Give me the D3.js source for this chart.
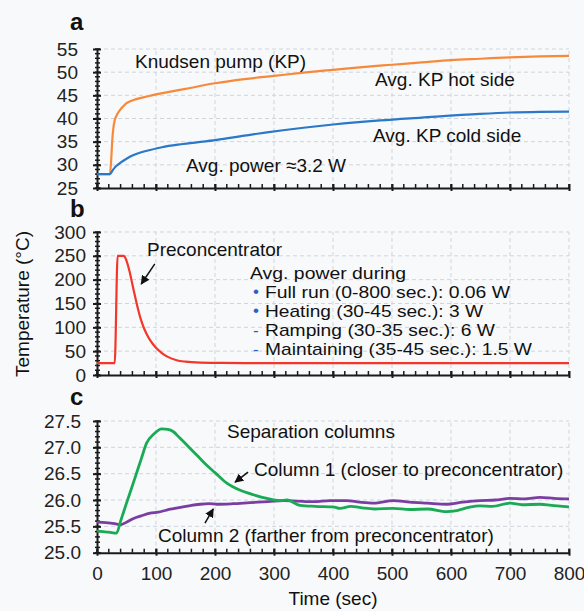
<!DOCTYPE html>
<html>
<head>
<meta charset="utf-8">
<script src="https://cdn.jsdelivr.net/npm/d3@7"></script>
<style>
  body { margin: 0; background: #f8f9fb; }
  svg { font-family: "Liberation Sans", Arial, sans-serif; }
  .grid line { stroke: #cfd5dd; stroke-width: 1; stroke-dasharray: 4,3; }
  .axis path, .axis line { stroke: #1a1a1a; stroke-width: 2; }
  .axis text { font-size: 19px; fill: #222; }
  .note { font-size: 19px; fill: #111; }
  .line { fill: none; stroke-linejoin: round; }
</style>
</head>
<body>
<svg width="584" height="611"></svg>
<script>
// ---- data ----
var hotTime = [0,22,24,26,28,30,33,36,40,45,50,56,62,70,80,100,120,150,200,250,300,350,400,450,500,550,600,650,700,750,800];
var hotSide = [28,28,31,35.5,38.2,39.6,40.6,41.3,42.0,42.7,43.3,43.7,44.0,44.3,44.6,45.2,45.7,46.4,47.6,48.5,49.2,49.9,50.5,51.1,51.6,52.1,52.6,52.9,53.2,53.4,53.5];

var coldTime = [0,22,26,30,35,40,50,62,75,90,110,146,203,250,288,350,400,480,550,649,700,750,800];
var coldSide = [28,28,28.7,29.4,30.0,30.5,31.3,32.1,32.7,33.2,33.8,34.5,35.4,36.3,37.0,38.0,38.7,39.6,40.2,41.0,41.3,41.45,41.5];

var preTime = [0,30,35,45,48,51,55,60,65,70,75,80,85,90,100,110,120,135,150,175,200,250,300,400,500,600,700,800];
var preTemp = [25,25,250,250,246,236,218,190,162,136,114,97,84,73,57,46,38,31,28,26,25.5,25,25,25,25,25,25,25];

var col1Time = [0,10,20,33,40,50,62,75,84,96,110,120,129,140,158,172,186,200,220,242,265,288,310,322,344,370,400,412,430,450,470,502,530,560,592,610,630,649,670,700,720,751,770,800];
var col1Temp = [25.41,25.40,25.39,25.37,25.60,25.94,26.34,26.78,27.08,27.25,27.35,27.34,27.30,27.18,26.98,26.82,26.66,26.52,26.32,26.19,26.10,26.03,25.99,26.00,25.90,25.88,25.87,25.84,25.88,25.85,25.83,25.84,25.82,25.83,25.78,25.80,25.86,25.89,25.88,25.94,25.91,25.92,25.90,25.87];

var col2Time = [0,15,30,40,50,62,75,90,104,118,132,146,160,175,190,203,230,259,290,316,340,367,395,423,445,469,502,530,560,592,620,649,675,700,725,751,775,800];
var col2Temp = [25.58,25.57,25.55,25.53,25.58,25.65,25.70,25.75,25.77,25.81,25.84,25.87,25.90,25.92,25.93,25.92,25.93,25.95,25.97,25.99,25.98,25.97,25.99,25.99,25.96,25.94,25.99,25.96,25.94,25.92,25.96,25.99,26.00,26.03,26.02,26.05,26.03,26.02];

var xTicks = [0,100,200,300,400,500,600,700,800];
var powerItems = ["Full run (0-800 sec.): 0.06 W", "Heating (30-45 sec.): 3 W", "Ramping (30-35 sec.): 6 W", "Maintaining (35-45 sec.): 1.5 W"];
var powerWidths = [245, 218, 230, 267];
var powerMarks = ["•", "•", "-", "-"];

var svg = d3.select("svg");
var x = d3.scaleLinear().domain([0, 800]).range([97, 569]);

svg.append("defs").append("marker")
    .attr("id", "arrow")
    .attr("viewBox", "0 0 10 10")
    .attr("refX", 9).attr("refY", 5)
    .attr("markerWidth", 9).attr("markerHeight", 9)
    .attr("markerUnits", "userSpaceOnUse")
    .attr("orient", "auto")
  .append("path")
    .attr("d", "M0,0 L10,5 L0,10 z")
    .attr("fill", "#111");

function drawPanel(p) {
    var y = d3.scaleLinear().domain(p.domain).range(p.range);
    var g = svg.append("g");

    // grid
    var grid = g.append("g").attr("class", "grid");
    grid.selectAll(".gx").data(xTicks.slice(1)).enter().append("line")
        .attr("x1", function(d) { return x(d); }).attr("x2", function(d) { return x(d); })
        .attr("y1", y(p.domain[0])).attr("y2", y(p.domain[1]));
    grid.selectAll(".gy").data(p.ticks.slice(1)).enter().append("line")
        .attr("x1", x(0)).attr("x2", x(800))
        .attr("y1", function(d) { return y(d); }).attr("y2", function(d) { return y(d); });

    // minor ticks
    var minorY = d3.range(p.domain[0], p.domain[1] + p.minor / 2, p.minor);
    g.append("g").attr("class", "axis").selectAll("line").data(minorY).enter().append("line")
        .attr("x1", x(0) - 2).attr("x2", x(0) + 3)
        .attr("y1", function(d) { return y(d); }).attr("y2", function(d) { return y(d); })
        .style("stroke-width", 1.5);
    var minorX = d3.range(0, 801, 20);
    g.append("g").attr("class", "axis").selectAll("line").data(minorX).enter().append("line")
        .attr("x1", function(d) { return x(d); }).attr("x2", function(d) { return x(d); })
        .attr("y1", y(p.domain[0]) - 4).attr("y2", y(p.domain[0]))
        .style("stroke-width", 1.5);

    // y axis
    var ya = g.append("g").attr("class", "axis")
        .attr("transform", "translate(" + x(0) + ",0)")
        .call(d3.axisLeft(y).tickValues(p.ticks).tickSizeOuter(0).tickSizeInner(4)
            .tickPadding(p.pad).tickFormat(p.fmt));
    ya.selectAll(".tick line").attr("x1", 4);

    // x axis
    var xa = g.append("g").attr("class", "axis")
        .attr("transform", "translate(0," + y(p.domain[0]) + ")")
        .call(d3.axisBottom(x).tickValues(xTicks).tickSizeOuter(0).tickSizeInner(3).tickPadding(8));
    xa.selectAll(".tick line").attr("y1", -4);
    if (!p.xLabels) xa.selectAll(".tick text").remove();
    xa.selectAll(".tick text").attr("dy", "0.85em");

    svg.append("text").attr("x", 70).attr("y", p.labelY)
        .attr("font-size", 24).attr("font-weight", "bold").attr("fill", "#111")
        .text(p.label);

    p.series.forEach(function(s) {
        var pts = s.t.map(function(t, i) { return [t, s.v[i]]; });
        g.append("path").datum(pts).attr("class", "line")
            .attr("stroke", s.color).attr("stroke-width", s.w)
            .attr("d", d3.line().x(function(d) { return x(d[0]); }).y(function(d) { return y(d[1]); })
                .curve(d3.curveMonotoneX));
    });

    (p.arrows || []).forEach(function(a) {
        g.append("line")
            .attr("x1", x(a[0])).attr("y1", y(a[1]))
            .attr("x2", x(a[2])).attr("y2", y(a[3]))
            .attr("stroke", "#111").attr("stroke-width", 1.5)
            .attr("marker-end", "url(#arrow)");
    });

    (p.notes || []).forEach(function(n) {
        svg.append("text").attr("class", "note").attr("x", n[0]).attr("y", n[1]).text(n[2]);
    });
    return y;
}

// panel a
drawPanel({
    domain: [25, 55], range: [188, 49], ticks: d3.range(25, 56, 5), minor: 1, pad: 15,
    fmt: d3.format("d"), label: "a", labelY: 30, xLabels: false,
    series: [
        { t: hotTime, v: hotSide, color: "#f7893b", w: 2.2 },
        { t: coldTime, v: coldSide, color: "#2a78c8", w: 2.2 }
    ],
    notes: [
        [135, 68, "Knudsen pump (KP)"],
        [375, 86, "Avg. KP hot side"],
        [373, 142, "Avg. KP cold side"],
        [186, 172, "Avg. power \u22483.2 W"]
    ]
});

// panel b
drawPanel({
    domain: [0, 300], range: [375, 232], ticks: d3.range(0, 301, 50), minor: 10, pad: 7,
    fmt: d3.format("d"), label: "b", labelY: 217, xLabels: false,
    series: [{ t: preTime, v: preTemp, color: "#f2362a", w: 2.2 }],
    arrows: [[98, 233, 75, 191]],
    notes: [
        [147, 256, "Preconcentrator"]
    ]
});
var items = svg.append("g");
items.append("text").attr("x", 250).attr("y", 279)
    .attr("font-size", 17).attr("fill", "#111")
    .attr("textLength", 156).attr("lengthAdjust", "spacingAndGlyphs")
    .text("Avg. power during");
powerItems.forEach(function(txt, i) {
    var yy = 297.5 + i * 19;
    items.append("text").attr("x", 253).attr("y", yy - (i < 2 ? 1 : 0))
        .attr("font-size", 17).attr("fill", "#2f5fc0").text(powerMarks[i]);
    items.append("text").attr("x", 265).attr("y", yy)
        .attr("font-size", 17).attr("fill", "#111")
        .attr("textLength", powerWidths[i]).attr("lengthAdjust", "spacingAndGlyphs")
        .text(txt);
});

// panel c
drawPanel({
    domain: [25, 27.5], range: [552.7, 421], ticks: d3.range(25, 27.51, 0.5), minor: 0.1, pad: 12,
    fmt: d3.format(".1f"), label: "c", labelY: 405, xLabels: true,
    series: [
        { t: col2Time, v: col2Temp, color: "#7a3ea3", w: 2.8 },
        { t: col1Time, v: col1Temp, color: "#1aaa55", w: 2.8 }
    ],
    arrows: [[256, 26.53, 234, 26.34], [183, 25.56, 197, 25.83]],
    notes: [
        [227, 438, "Separation columns"],
        [254, 476, "Column 1 (closer to preconcentrator)"],
        [158, 542, "Column 2 (farther from preconcentrator)"]
    ]
});

svg.append("text").attr("class", "note").attr("x", x(400)).attr("y", 605)
    .attr("text-anchor", "middle").text("Time (sec)");
svg.append("text").attr("class", "note")
    .attr("transform", "translate(29,304) rotate(-90)")
    .attr("text-anchor", "middle").text("Temperature (\u00B0C)");
</script>
</body>
</html>
